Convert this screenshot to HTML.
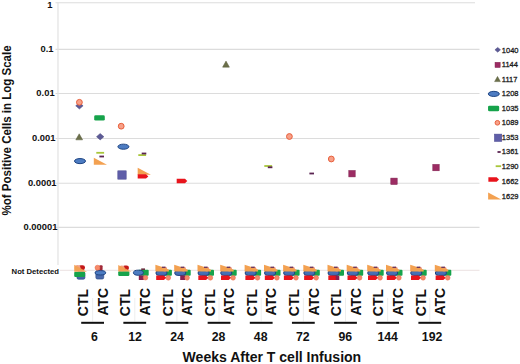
<!DOCTYPE html><html><head><meta charset="utf-8"><style>html,body{margin:0;padding:0;background:#fff;}svg{display:block;}</style></head><body>
<svg width="520" height="364" viewBox="0 0 520 364" font-family='"Liberation Sans", sans-serif'>
<rect width="520" height="364" fill="#fff"/>
<line x1="55.5" y1="2.7" x2="475" y2="2.7" stroke="#dcdcdc" stroke-width="1.1"/>
<line x1="55.5" y1="49.4" x2="479.5" y2="49.4" stroke="#dcdcdc" stroke-width="1.1"/>
<line x1="55.5" y1="93.5" x2="479.5" y2="93.5" stroke="#dcdcdc" stroke-width="1.1"/>
<line x1="55.5" y1="138.5" x2="479.5" y2="138.5" stroke="#dcdcdc" stroke-width="1.1"/>
<line x1="55.5" y1="183.2" x2="479.5" y2="183.2" stroke="#dcdcdc" stroke-width="1.1"/>
<line x1="55.5" y1="227.4" x2="479.5" y2="227.4" stroke="#dcdcdc" stroke-width="1.1"/>
<line x1="60" y1="270.3" x2="479.5" y2="270.3" stroke="#ece2e2" stroke-width="1"/>
<line x1="58" y1="2" x2="58" y2="265" stroke="#e2e2e2" stroke-width="1.2"/>
<text x="52.4" y="7.5" font-size="9.4" font-weight="bold" text-anchor="end" fill="#111">1</text>
<text x="53.6" y="52.2" font-size="9.4" font-weight="bold" text-anchor="end" fill="#111">0.1</text>
<text x="54.6" y="96.3" font-size="9.4" font-weight="bold" text-anchor="end" fill="#111">0.01</text>
<text x="55.5" y="141.2" font-size="9.4" font-weight="bold" text-anchor="end" fill="#111">0.001</text>
<text x="56.6" y="185.9" font-size="9.4" font-weight="bold" text-anchor="end" fill="#111">0.0001</text>
<text x="57.4" y="230.3" font-size="9.4" font-weight="bold" text-anchor="end" fill="#111">0.00001</text>
<text x="59" y="274" font-size="7.7" font-weight="bold" text-anchor="end" fill="#111">Not Detected</text>
<text transform="translate(11,215.4) rotate(-90)" font-size="12" font-weight="bold" fill="#111" textLength="170" lengthAdjust="spacingAndGlyphs">%of Positive Cells in Log Scale</text>
<line x1="92.6" y1="298" x2="92.6" y2="321.5" stroke="#ececec" stroke-width="0.9"/>
<text transform="translate(88.30,316.2) rotate(-90)" font-size="14" font-weight="bold" fill="#111">CTL</text>
<text transform="translate(107.80,315.6) rotate(-90)" font-size="14" font-weight="bold" fill="#111">ATC</text>
<rect x="81.20" y="321.8" width="22.8" height="2" fill="#111"/>
<text x="94.30" y="340.5" font-size="12.3" font-weight="bold" text-anchor="middle" fill="#111">6</text>
<line x1="134.8" y1="298" x2="134.8" y2="321.5" stroke="#ececec" stroke-width="0.9"/>
<text transform="translate(130.45,316.2) rotate(-90)" font-size="14" font-weight="bold" fill="#111">CTL</text>
<text transform="translate(149.95,315.6) rotate(-90)" font-size="14" font-weight="bold" fill="#111">ATC</text>
<rect x="123.35" y="321.8" width="22.8" height="2" fill="#111"/>
<text x="135.00" y="340.5" font-size="12.3" font-weight="bold" text-anchor="middle" fill="#111">12</text>
<line x1="176.9" y1="298" x2="176.9" y2="321.5" stroke="#ececec" stroke-width="0.9"/>
<text transform="translate(172.60,316.2) rotate(-90)" font-size="14" font-weight="bold" fill="#111">CTL</text>
<text transform="translate(192.10,315.6) rotate(-90)" font-size="14" font-weight="bold" fill="#111">ATC</text>
<rect x="165.50" y="321.8" width="22.8" height="2" fill="#111"/>
<text x="177.10" y="340.5" font-size="12.3" font-weight="bold" text-anchor="middle" fill="#111">24</text>
<line x1="219.0" y1="298" x2="219.0" y2="321.5" stroke="#ececec" stroke-width="0.9"/>
<text transform="translate(214.75,316.2) rotate(-90)" font-size="14" font-weight="bold" fill="#111">CTL</text>
<text transform="translate(234.25,315.6) rotate(-90)" font-size="14" font-weight="bold" fill="#111">ATC</text>
<rect x="207.65" y="321.8" width="22.8" height="2" fill="#111"/>
<text x="218.50" y="340.5" font-size="12.3" font-weight="bold" text-anchor="middle" fill="#111">28</text>
<line x1="261.2" y1="298" x2="261.2" y2="321.5" stroke="#ececec" stroke-width="0.9"/>
<text transform="translate(256.90,316.2) rotate(-90)" font-size="14" font-weight="bold" fill="#111">CTL</text>
<text transform="translate(276.40,315.6) rotate(-90)" font-size="14" font-weight="bold" fill="#111">ATC</text>
<rect x="249.80" y="321.8" width="22.8" height="2" fill="#111"/>
<text x="260.65" y="340.5" font-size="12.3" font-weight="bold" text-anchor="middle" fill="#111">48</text>
<line x1="303.4" y1="298" x2="303.4" y2="321.5" stroke="#ececec" stroke-width="0.9"/>
<text transform="translate(299.05,316.2) rotate(-90)" font-size="14" font-weight="bold" fill="#111">CTL</text>
<text transform="translate(318.55,315.6) rotate(-90)" font-size="14" font-weight="bold" fill="#111">ATC</text>
<rect x="291.95" y="321.8" width="22.8" height="2" fill="#111"/>
<text x="302.80" y="340.5" font-size="12.3" font-weight="bold" text-anchor="middle" fill="#111">72</text>
<line x1="345.5" y1="298" x2="345.5" y2="321.5" stroke="#ececec" stroke-width="0.9"/>
<text transform="translate(341.20,316.2) rotate(-90)" font-size="14" font-weight="bold" fill="#111">CTL</text>
<text transform="translate(360.70,315.6) rotate(-90)" font-size="14" font-weight="bold" fill="#111">ATC</text>
<rect x="334.10" y="321.8" width="22.8" height="2" fill="#111"/>
<text x="345.30" y="340.5" font-size="12.3" font-weight="bold" text-anchor="middle" fill="#111">96</text>
<line x1="387.6" y1="298" x2="387.6" y2="321.5" stroke="#ececec" stroke-width="0.9"/>
<text transform="translate(383.35,316.2) rotate(-90)" font-size="14" font-weight="bold" fill="#111">CTL</text>
<text transform="translate(402.85,315.6) rotate(-90)" font-size="14" font-weight="bold" fill="#111">ATC</text>
<rect x="376.25" y="321.8" width="22.8" height="2" fill="#111"/>
<text x="387.70" y="340.5" font-size="12.3" font-weight="bold" text-anchor="middle" fill="#111">144</text>
<line x1="429.8" y1="298" x2="429.8" y2="321.5" stroke="#ececec" stroke-width="0.9"/>
<text transform="translate(425.50,316.2) rotate(-90)" font-size="14" font-weight="bold" fill="#111">CTL</text>
<text transform="translate(445.00,315.6) rotate(-90)" font-size="14" font-weight="bold" fill="#111">ATC</text>
<rect x="418.40" y="321.8" width="22.8" height="2" fill="#111"/>
<text x="432.10" y="340.5" font-size="12.3" font-weight="bold" text-anchor="middle" fill="#111">192</text>
<text x="182.6" y="361.9" font-size="14" font-weight="bold" fill="#111" textLength="178.6" lengthAdjust="spacingAndGlyphs">Weeks After T cell Infusion</text>
<polygon points="497.7,47.40 500.47,49.8 497.7,52.20 494.93,49.8" fill="#5c5a95" stroke="#4a4880" stroke-width="0.5"/>
<text x="501.8" y="52.6" font-size="7.5" fill="#1a1a1a" stroke="#1a1a1a" stroke-width="0.28">1040</text>
<rect x="495.04" y="62.34" width="5.12" height="5.12" fill="#9c2c63" stroke="#7d1d4c" stroke-width="0.5"/>
<text x="501.8" y="67.2" font-size="7.5" fill="#1a1a1a" stroke="#1a1a1a" stroke-width="0.28">1144</text>
<polygon points="497.5,76.46 500.39,81.60 494.61,81.60" fill="#6b6f4a" stroke="#585c3a" stroke-width="0.5"/>
<text x="501.8" y="81.6" font-size="7.5" fill="#1a1a1a" stroke="#1a1a1a" stroke-width="0.28">1117</text>
<ellipse cx="493.8" cy="93.9" rx="5.50" ry="2.55" fill="#4d7cc2" stroke="#1f4684" stroke-width="1"/>
<text x="501.8" y="96.3" font-size="7.5" fill="#1a1a1a" stroke="#1a1a1a" stroke-width="0.28">1208</text>
<rect x="488.04" y="105.72" width="11.13" height="5.57" rx="1.4" fill="#16a34b"/>
<text x="501.8" y="110.8" font-size="7.5" fill="#1a1a1a" stroke="#1a1a1a" stroke-width="0.28">1035</text>
<circle cx="497.4" cy="122.8" r="2.32" fill="#f7a088" stroke="#e8603c" stroke-width="1.0"/>
<text x="501.8" y="125.2" font-size="7.5" fill="#1a1a1a" stroke="#1a1a1a" stroke-width="0.28">1089</text>
<rect x="494.40" y="134.10" width="7.39" height="7.39" fill="#5f5ea8" stroke="#4a4990" stroke-width="0.5"/>
<text x="501.8" y="140.0" font-size="7.5" fill="#1a1a1a" stroke="#1a1a1a" stroke-width="0.28">1353</text>
<rect x="497.49" y="151.10" width="3.22" height="1.8" fill="#5a2452"/>
<text x="501.8" y="154.4" font-size="7.5" fill="#1a1a1a" stroke="#1a1a1a" stroke-width="0.28">1361</text>
<rect x="495.67" y="165.30" width="5.46" height="1.8" fill="#a8c63a"/>
<text x="501.8" y="168.6" font-size="7.5" fill="#1a1a1a" stroke="#1a1a1a" stroke-width="0.28">1290</text>
<polygon points="488.40,177.30 496.70,177.30 499.00,179.5 496.70,181.70 488.40,181.70" fill="#e8141c"/>
<text x="501.8" y="184.1" font-size="7.5" fill="#1a1a1a" stroke="#1a1a1a" stroke-width="0.28">1662</text>
<polygon points="488.10,192.60 488.10,199.60 501.30,199.60" fill="#f3a151"/>
<text x="501.8" y="198.6" font-size="7.5" fill="#1a1a1a" stroke="#1a1a1a" stroke-width="0.28">1629</text>
<polygon points="79.4,102.60 83.10,105.8 79.4,109.00 75.70,105.8" fill="#5c5a95" stroke="#4a4880" stroke-width="0.5"/>
<circle cx="79.4" cy="102.3" r="2.90" fill="#f7a088" stroke="#e8603c" stroke-width="1.0"/>
<polygon points="79.2,133.80 82.60,139.84 75.80,139.84" fill="#6b6f4a" stroke="#585c3a" stroke-width="0.5"/>
<ellipse cx="80.0" cy="161.1" rx="5.50" ry="2.55" fill="#4d7cc2" stroke="#1f4684" stroke-width="1"/>
<rect x="94.20" y="115.25" width="10.60" height="5.30" rx="1.4" fill="#16a34b"/>
<polygon points="100.2,133.50 103.90,136.7 100.2,139.90 96.50,136.7" fill="#5c5a95" stroke="#4a4880" stroke-width="0.5"/>
<rect x="96.30" y="151.90" width="7.80" height="1.8" fill="#a8c63a"/>
<rect x="99.40" y="155.60" width="4.60" height="1.8" fill="#5a2452"/>
<polygon points="93.80,157.70 93.80,164.70 107.00,164.70" fill="#f3a151"/>
<circle cx="121.2" cy="126.2" r="2.90" fill="#f7a088" stroke="#e8603c" stroke-width="1.0"/>
<ellipse cx="123.4" cy="146.7" rx="5.50" ry="2.55" fill="#4d7cc2" stroke="#1f4684" stroke-width="1"/>
<rect x="117.80" y="170.80" width="8.40" height="8.40" fill="#5f5ea8" stroke="#4a4990" stroke-width="0.5"/>
<rect x="138.30" y="154.20" width="7.80" height="1.8" fill="#a8c63a"/>
<rect x="141.70" y="152.60" width="4.60" height="1.8" fill="#5a2452"/>
<polygon points="137.70,167.80 137.70,174.80 150.90,174.80" fill="#f3a151"/>
<polygon points="137.70,174.20 146.00,174.20 148.30,176.4 146.00,178.60 137.70,178.60" fill="#e8141c"/>
<polygon points="176.70,178.80 185.00,178.80 187.30,181.0 185.00,183.20 176.70,183.20" fill="#e8141c"/>
<polygon points="226.0,61.10 229.40,67.14 222.60,67.14" fill="#6b6f4a" stroke="#585c3a" stroke-width="0.5"/>
<rect x="264.30" y="165.10" width="7.80" height="1.8" fill="#a8c63a"/>
<rect x="267.80" y="166.40" width="4.60" height="1.8" fill="#5a2452"/>
<circle cx="289.4" cy="136.5" r="2.90" fill="#f7a088" stroke="#e8603c" stroke-width="1.0"/>
<rect x="309.40" y="172.60" width="4.60" height="1.8" fill="#5a2452"/>
<circle cx="331.3" cy="159.0" r="2.90" fill="#f7a088" stroke="#e8603c" stroke-width="1.0"/>
<rect x="348.80" y="170.50" width="6.40" height="6.40" fill="#9c2c63" stroke="#7d1d4c" stroke-width="0.5"/>
<rect x="390.80" y="178.10" width="6.40" height="6.40" fill="#9c2c63" stroke="#7d1d4c" stroke-width="0.5"/>
<rect x="432.80" y="164.40" width="6.40" height="6.40" fill="#9c2c63" stroke="#7d1d4c" stroke-width="0.5"/>
<rect x="77.0" y="272" width="7.9" height="7.2" rx="1.5" fill="#4766a8" stroke="#2c4a88" stroke-width="0.7"/>
<rect x="74.2" y="271.7" width="10.9" height="5.3" rx="1.2" fill="#16a34b"/>
<rect x="78.4" y="265.2" width="6.6" height="5" rx="2.4" fill="#c41818"/>
<circle cx="77.6" cy="268.0" r="2.9" fill="#f3a285"/>
<polygon points="74.2,264.8 74.2,271.7 87.0,271.7" fill="#f3a151" opacity="0.92"/>
<rect x="95.9" y="270.6" width="7.8" height="8.4" rx="1.5" fill="#4a6aac" stroke="#2c4a88" stroke-width="0.7"/>
<ellipse cx="100.4" cy="272.8" rx="5.3" ry="2.2" fill="#4d7cc2" stroke="#1f4684" stroke-width="1"/>
<rect x="99.2" y="265.2" width="3.4" height="5" rx="1" fill="#a02838"/>
<circle cx="97.5" cy="267.7" r="2.5" fill="#f58a6a" stroke="#e8603c" stroke-width="0.5"/>
<rect x="118.2" y="271.3" width="11.2" height="4.6" rx="1.2" fill="#16a34b"/>
<rect x="122.4" y="265.5" width="6.6" height="4.8" rx="2.4" fill="#c41818"/>
<circle cx="121.8" cy="268.3" r="2.9" fill="#f3a285"/>
<polygon points="118.2,265.0 118.2,271.4 131.5,271.4" fill="#f3a151" opacity="0.92"/>
<rect x="138.4" y="269.7" width="10.3" height="6.05" rx="1.0" fill="#16a34b"/>
<ellipse cx="138.4" cy="272.7" rx="5.0" ry="2.55" fill="#4d7cc2" stroke="#1f4684" stroke-width="1"/>
<rect x="141.2" y="268.4" width="3.8" height="1.6" fill="#6a3040"/>
<rect x="138.8" y="275.5" width="5" height="4.5" fill="#8a2050"/>
<circle cx="145.5" cy="277.7" r="2.3" fill="#f58a6a" stroke="#e8603c" stroke-width="0.5"/>
<rect x="161.4" y="269.7" width="10.5" height="6.05" rx="1.0" fill="#16a34b"/>
<rect x="155.9" y="270.6" width="11.2" height="4.8" rx="3.2" ry="2.4" fill="#4670b4" stroke="#1f4282" stroke-width="1"/>
<polygon points="156.2,275.6 163.9,275.6 166.4,277.8 163.9,280 156.2,280" fill="#e8141c"/>
<circle cx="168.3" cy="277.8" r="2.35" fill="#f58a6a" stroke="#e8603c" stroke-width="0.5"/>
<circle cx="164.9" cy="269.2" r="2.4" fill="#f19a86"/>
<polygon points="155.4,264.7 163.9,267.4 168.9,269.8 168.9,271.6 155.4,271.6" fill="#f3a151"/>
<rect x="161.9" y="266.6" width="3.6" height="1.4" fill="#70385a"/>
<rect x="180.2" y="269.7" width="10.5" height="6.05" rx="1.0" fill="#16a34b"/>
<rect x="174.7" y="270.6" width="11.2" height="4.8" rx="3.2" ry="2.4" fill="#4670b4" stroke="#1f4282" stroke-width="1"/>
<rect x="180.2" y="275.5" width="5" height="4.5" fill="#8a2050"/>
<circle cx="187.1" cy="277.8" r="2.35" fill="#f58a6a" stroke="#e8603c" stroke-width="0.5"/>
<circle cx="183.7" cy="269.2" r="2.4" fill="#f19a86"/>
<polygon points="174.2,264.7 182.7,267.4 187.7,269.8 187.7,271.6 174.2,271.6" fill="#f3a151"/>
<rect x="180.7" y="266.6" width="3.6" height="1.4" fill="#70385a"/>
<rect x="203.5" y="269.7" width="10.5" height="6.05" rx="1.0" fill="#16a34b"/>
<rect x="198.0" y="270.6" width="11.2" height="4.8" rx="3.2" ry="2.4" fill="#4670b4" stroke="#1f4282" stroke-width="1"/>
<polygon points="198.3,275.6 206.0,275.6 208.5,277.8 206.0,280 198.3,280" fill="#e8141c"/>
<circle cx="210.4" cy="277.8" r="2.35" fill="#f58a6a" stroke="#e8603c" stroke-width="0.5"/>
<circle cx="207.0" cy="269.2" r="2.4" fill="#f19a86"/>
<polygon points="197.5,264.7 206.0,267.4 211.0,269.8 211.0,271.6 197.5,271.6" fill="#f3a151"/>
<rect x="204.0" y="266.6" width="3.6" height="1.4" fill="#70385a"/>
<rect x="226.2" y="269.7" width="10.5" height="6.05" rx="1.0" fill="#16a34b"/>
<rect x="220.7" y="270.6" width="11.2" height="4.8" rx="3.2" ry="2.4" fill="#4670b4" stroke="#1f4282" stroke-width="1"/>
<polygon points="221.0,275.6 228.7,275.6 231.2,277.8 228.7,280 221.0,280" fill="#e8141c"/>
<circle cx="233.1" cy="277.8" r="2.35" fill="#f58a6a" stroke="#e8603c" stroke-width="0.5"/>
<circle cx="229.7" cy="269.2" r="2.4" fill="#f19a86"/>
<polygon points="220.2,264.7 228.7,267.4 233.7,269.8 233.7,271.6 220.2,271.6" fill="#f3a151"/>
<rect x="226.7" y="266.6" width="3.6" height="1.4" fill="#70385a"/>
<rect x="250.6" y="269.7" width="10.5" height="6.05" rx="1.0" fill="#16a34b"/>
<rect x="245.1" y="270.6" width="11.2" height="4.8" rx="3.2" ry="2.4" fill="#4670b4" stroke="#1f4282" stroke-width="1"/>
<polygon points="245.4,275.6 253.1,275.6 255.6,277.8 253.1,280 245.4,280" fill="#e8141c"/>
<circle cx="257.5" cy="277.8" r="2.35" fill="#f58a6a" stroke="#e8603c" stroke-width="0.5"/>
<circle cx="254.1" cy="269.2" r="2.4" fill="#f19a86"/>
<polygon points="244.6,264.7 253.1,267.4 258.1,269.8 258.1,271.6 244.6,271.6" fill="#f3a151"/>
<rect x="251.1" y="266.6" width="3.6" height="1.4" fill="#70385a"/>
<rect x="270.0" y="269.7" width="10.5" height="6.05" rx="1.0" fill="#16a34b"/>
<rect x="264.5" y="270.6" width="11.2" height="4.8" rx="3.2" ry="2.4" fill="#4670b4" stroke="#1f4282" stroke-width="1"/>
<polygon points="264.8,275.6 272.5,275.6 275.0,277.8 272.5,280 264.8,280" fill="#e8141c"/>
<circle cx="276.9" cy="277.8" r="2.35" fill="#f58a6a" stroke="#e8603c" stroke-width="0.5"/>
<circle cx="273.5" cy="269.2" r="2.4" fill="#f19a86"/>
<polygon points="264.0,264.7 272.5,267.4 277.5,269.8 277.5,271.6 264.0,271.6" fill="#f3a151"/>
<rect x="270.5" y="266.6" width="3.6" height="1.4" fill="#70385a"/>
<rect x="289.1" y="269.7" width="10.5" height="6.05" rx="1.0" fill="#16a34b"/>
<rect x="283.6" y="270.6" width="11.2" height="4.8" rx="3.2" ry="2.4" fill="#4670b4" stroke="#1f4282" stroke-width="1"/>
<polygon points="283.9,275.6 291.6,275.6 294.1,277.8 291.6,280 283.9,280" fill="#e8141c"/>
<circle cx="296.0" cy="277.8" r="2.35" fill="#f58a6a" stroke="#e8603c" stroke-width="0.5"/>
<circle cx="292.6" cy="269.2" r="2.4" fill="#f19a86"/>
<polygon points="283.1,264.7 291.6,267.4 296.6,269.8 296.6,271.6 283.1,271.6" fill="#f3a151"/>
<rect x="289.6" y="266.6" width="3.6" height="1.4" fill="#70385a"/>
<rect x="309.3" y="269.7" width="10.5" height="6.05" rx="1.0" fill="#16a34b"/>
<rect x="303.8" y="270.6" width="11.2" height="4.8" rx="3.2" ry="2.4" fill="#4670b4" stroke="#1f4282" stroke-width="1"/>
<polygon points="304.1,275.6 311.8,275.6 314.3,277.8 311.8,280 304.1,280" fill="#e8141c"/>
<circle cx="316.2" cy="277.8" r="2.35" fill="#f58a6a" stroke="#e8603c" stroke-width="0.5"/>
<circle cx="312.8" cy="269.2" r="2.4" fill="#f19a86"/>
<polygon points="303.3,264.7 311.8,267.4 316.8,269.8 316.8,271.6 303.3,271.6" fill="#f3a151"/>
<rect x="309.8" y="266.6" width="3.6" height="1.4" fill="#70385a"/>
<rect x="333.5" y="269.7" width="10.5" height="6.05" rx="1.0" fill="#16a34b"/>
<rect x="328.0" y="270.6" width="11.2" height="4.8" rx="3.2" ry="2.4" fill="#4670b4" stroke="#1f4282" stroke-width="1"/>
<polygon points="328.3,275.6 336.0,275.6 338.5,277.8 336.0,280 328.3,280" fill="#e8141c"/>
<rect x="335.7" y="275.6" width="3.6" height="4.4" fill="#8a2050"/>
<circle cx="337.0" cy="269.2" r="2.4" fill="#f19a86"/>
<polygon points="327.5,264.7 336.0,267.4 341.0,269.8 341.0,271.6 327.5,271.6" fill="#f3a151"/>
<rect x="334.0" y="266.6" width="3.6" height="1.4" fill="#70385a"/>
<rect x="352.7" y="269.7" width="10.5" height="6.05" rx="1.0" fill="#16a34b"/>
<rect x="347.2" y="270.6" width="11.2" height="4.8" rx="3.2" ry="2.4" fill="#4670b4" stroke="#1f4282" stroke-width="1"/>
<polygon points="347.5,275.6 355.2,275.6 357.7,277.8 355.2,280 347.5,280" fill="#e8141c"/>
<circle cx="359.6" cy="277.8" r="2.35" fill="#f58a6a" stroke="#e8603c" stroke-width="0.5"/>
<circle cx="356.2" cy="269.2" r="2.4" fill="#f19a86"/>
<polygon points="346.7,264.7 355.2,267.4 360.2,269.8 360.2,271.6 346.7,271.6" fill="#f3a151"/>
<rect x="353.2" y="266.6" width="3.6" height="1.4" fill="#70385a"/>
<rect x="373.2" y="269.7" width="10.5" height="6.05" rx="1.0" fill="#16a34b"/>
<rect x="367.7" y="270.6" width="11.2" height="4.8" rx="3.2" ry="2.4" fill="#4670b4" stroke="#1f4282" stroke-width="1"/>
<polygon points="368.0,275.6 375.7,275.6 378.2,277.8 375.7,280 368.0,280" fill="#e8141c"/>
<circle cx="380.1" cy="277.8" r="2.35" fill="#f58a6a" stroke="#e8603c" stroke-width="0.5"/>
<circle cx="376.7" cy="269.2" r="2.4" fill="#f19a86"/>
<polygon points="367.2,264.7 375.7,267.4 380.7,269.8 380.7,271.6 367.2,271.6" fill="#f3a151"/>
<rect x="373.7" y="266.6" width="3.6" height="1.4" fill="#70385a"/>
<rect x="392.0" y="269.7" width="10.5" height="6.05" rx="1.0" fill="#16a34b"/>
<rect x="386.5" y="270.6" width="11.2" height="4.8" rx="3.2" ry="2.4" fill="#4670b4" stroke="#1f4282" stroke-width="1"/>
<polygon points="386.8,275.6 394.5,275.6 397.0,277.8 394.5,280 386.8,280" fill="#e8141c"/>
<circle cx="398.9" cy="277.8" r="2.35" fill="#f58a6a" stroke="#e8603c" stroke-width="0.5"/>
<circle cx="395.5" cy="269.2" r="2.4" fill="#f19a86"/>
<polygon points="386.0,264.7 394.5,267.4 399.5,269.8 399.5,271.6 386.0,271.6" fill="#f3a151"/>
<rect x="392.5" y="266.6" width="3.6" height="1.4" fill="#70385a"/>
<rect x="416.2" y="269.7" width="10.5" height="6.05" rx="1.0" fill="#16a34b"/>
<rect x="410.7" y="270.6" width="11.2" height="4.8" rx="3.2" ry="2.4" fill="#4670b4" stroke="#1f4282" stroke-width="1"/>
<polygon points="411.0,275.6 418.7,275.6 421.2,277.8 418.7,280 411.0,280" fill="#e8141c"/>
<circle cx="423.1" cy="277.8" r="2.35" fill="#f58a6a" stroke="#e8603c" stroke-width="0.5"/>
<circle cx="419.7" cy="269.2" r="2.4" fill="#f19a86"/>
<polygon points="410.2,264.7 418.7,267.4 423.7,269.8 423.7,271.6 410.2,271.6" fill="#f3a151"/>
<rect x="416.7" y="266.6" width="3.6" height="1.4" fill="#70385a"/>
<rect x="440.8" y="269.7" width="10.5" height="6.05" rx="1.0" fill="#16a34b"/>
<rect x="435.3" y="270.6" width="11.2" height="4.8" rx="3.2" ry="2.4" fill="#4670b4" stroke="#1f4282" stroke-width="1"/>
<polygon points="435.6,275.6 443.3,275.6 445.8,277.8 443.3,280 435.6,280" fill="#e8141c"/>
<circle cx="447.7" cy="277.8" r="2.35" fill="#f58a6a" stroke="#e8603c" stroke-width="0.5"/>
<circle cx="444.3" cy="269.2" r="2.4" fill="#f19a86"/>
<polygon points="434.8,264.7 443.3,267.4 448.3,269.8 448.3,271.6 434.8,271.6" fill="#f3a151"/>
<rect x="441.3" y="266.6" width="3.6" height="1.4" fill="#70385a"/>
</svg></body></html>
